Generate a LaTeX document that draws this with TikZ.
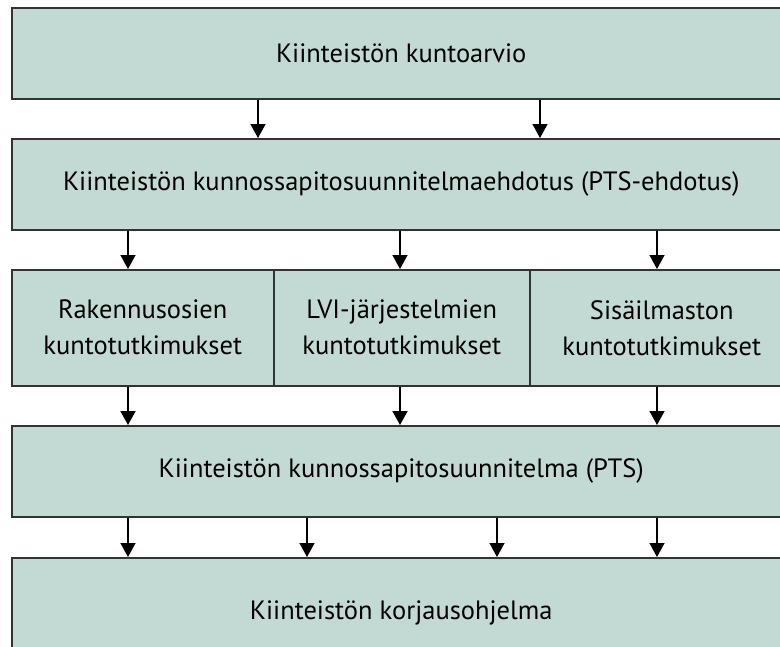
\documentclass[tikz,border=0pt]{standalone}
\usepackage{fontspec}
\setmainfont{PT Sans}
\usetikzlibrary{arrows.meta,positioning}
\definecolor{clBox}{HTML}{C2DAD3}
\definecolor{clLine}{HTML}{333333}
\tikzset{
  box/.style={rectangle, draw=clLine, fill=clBox, line width=1.5pt, align=center,
              anchor=north west, inner sep=0pt, font=\fontsize{26.5}{36}\selectfont},
  wide/.style={box, minimum width=779pt, minimum height=91pt},
  part/.style={box, minimum height=116pt},
  flow/.style={-{Triangle[length=14pt, width=15pt]}, line width=1.3pt, draw=black},
}
\begin{document}
\begin{tikzpicture}[x=1pt, y=-1pt]
  \useasboundingbox (0,0) rectangle (780,646);
  \clip (0,0) rectangle (780,646);
  % main rows
  \node[wide] (arvio) at (11,7) {Kiinteistön kuntoarvio};
  \node[wide] (ehdotus) at (11,138) {Kiinteistön kunnossapitosuunnitelmaehdotus (PTS-ehdotus)};
  \node[part, minimum width=262pt] (rak) at (11,269) {Rakennusosien\\kuntotutkimukset};
  \node[part, minimum width=256pt] (lvi) at (273,269) {LVI-järjestelmien\\kuntotutkimukset};
  \node[part, minimum width=264pt] (sis) at (529,269) {Sisäilmaston\\kuntotutkimukset};
  \node[wide] (pts) at (11,425) {Kiinteistön kunnossapitosuunnitelma (PTS)};
  \node[wide, minimum height=120pt] (korjaus) at (11,557) {\raisebox{15pt}{Kiinteistön korjausohjelma}};
  % arrows
  \foreach \x in {258,540}
    \draw[flow] (arvio.south -| \x,0) -- (ehdotus.north -| \x,0);
  \draw[flow] (ehdotus.south -| 128,0) -- (rak.north -| 128,0);
  \draw[flow] (ehdotus.south -| 400,0) -- (lvi.north -| 400,0);
  \draw[flow] (ehdotus.south -| 657,0) -- (sis.north -| 657,0);
  \draw[flow] (rak.south -| 128,0) -- (pts.north -| 128,0);
  \draw[flow] (lvi.south -| 400,0) -- (pts.north -| 400,0);
  \draw[flow] (sis.south -| 657,0) -- (pts.north -| 657,0);
  \foreach \x in {128,307,497,657}
    \draw[flow] (pts.south -| \x,0) -- (korjaus.north -| \x,0);
\end{tikzpicture}
\end{document}
